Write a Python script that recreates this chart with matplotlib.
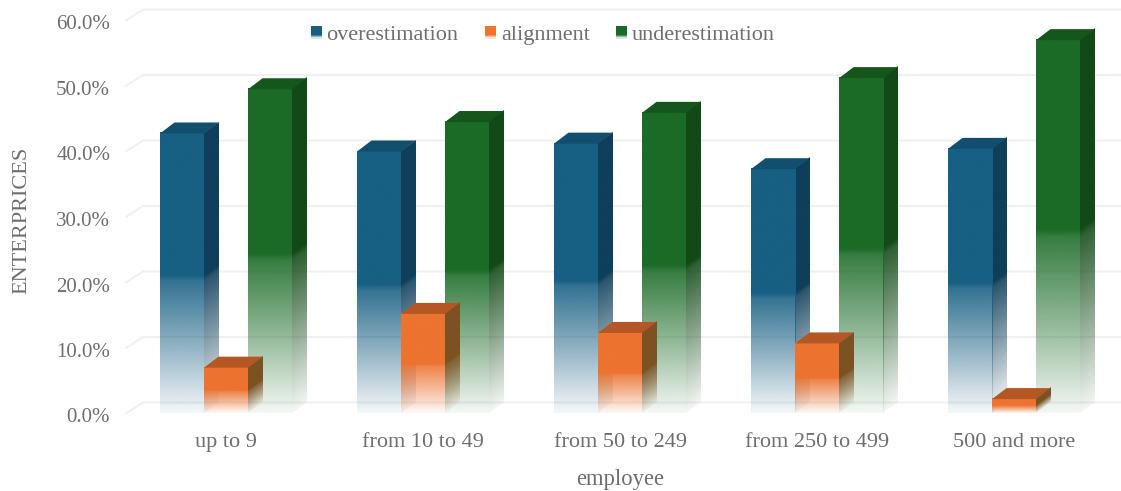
import numpy as np
import matplotlib
matplotlib.use("Agg")
import matplotlib.pyplot as plt
from matplotlib.colors import to_rgb
from matplotlib.legend_handler import HandlerBase
from matplotlib.patches import Patch, Rectangle
from matplotlib.transforms import Affine2D, ScaledTranslation

categories = ["up to 9", "from 10 to 49", "from 50 to 249", "from 250 to 499", "500 and more"]
overestimation = [42.75, 40.0, 41.2, 37.3, 40.4]
alignment = [7.0, 15.2, 12.3, 10.7, 2.2]
underestimation = [49.5, 44.5, 45.9, 51.2, 57.0]
y_ticks = [0, 10, 20, 30, 40, 50, 60]

# front, side and top shades for each series
OVER = ("#175f83", "#0f3f5a", "#124f6e")
ALIGN = ("#ec7330", "#7c5222", "#b55724")
UNDER = ("#1b6b27", "#124a17", "#14561b")
TEXT = "#6e6e6e"
GRID = "#f0f0f0"

W, H = 1121, 491
FONT = "Liberation Serif"

fig = plt.figure(figsize=(W / 100, H / 100), dpi=100)
left, right, top, bottom = 127.5, 1112.5, 20.5, 413.5
ax = fig.add_axes([left / W, 1 - bottom / H, (right - left) / W, (bottom - top) / H])
for s in ax.spines.values():
    s.set_visible(False)

BAR_W = 44 / 197
DX = 14.5 / 197      # horizontal depth of the 3-D extrusion
DY = 11 / 6.55       # vertical depth of the 3-D extrusion
SEAM = 0.2 / 197     # small inset between the side and front faces

# floor and back wall gridlines
for v in y_ticks:
    ax.plot([-0.5 - 1.5 / 197, -0.5 + 15.5 / 197, 4.5 + DX + 0.04],
            [v, v + DY, v + DY], color=GRID, lw=1.4, clip_on=False, zorder=1,
            solid_joinstyle="round")

# opacity stops along the bar height, 0 at the base and 1 at the top
FADE_POS = [0.0, 0.04, 0.25, 0.47, 0.49, 1.0]
FADE_ALPHA = [0.05, 0.12, 0.50, 0.88, 1.0, 1.0]


def faded_face(x0, x1, h, colour, sheared, z):
    """Draw a face whose opacity falls away toward the base of the bar."""
    t = np.linspace(1, 0, 256)
    rgba = np.zeros((t.size, 1, 4))
    rgba[..., :3] = to_rgb(colour)
    rgba[:, 0, 3] = np.interp(t, FADE_POS, FADE_ALPHA)
    slope = DY / DX if sheared else 0.0
    shear = Affine2D.from_values(1, slope, 0, 1, 0, -slope * x0)
    im = ax.imshow(rgba, extent=(x0, x1, 0, h), aspect="auto", interpolation="bilinear",
                   transform=shear + ax.transData, zorder=z)
    im.set_clip_on(False)


def draw_bar(cx, value, shades, z):
    front, side, cap = shades
    x0, x1 = cx - BAR_W / 2, cx + BAR_W / 2
    faded_face(x1 + SEAM, x1 + DX, value, side, True, z)
    faded_face(x0, x1, value, front, False, z + 0.1)
    ax.fill([x0, x1, x1 + DX, x0 + DX], [value, value, value + DY, value + DY],
            color=cap, lw=0, zorder=z + 0.2, clip_on=False)


for i in range(len(categories)):
    draw_bar(i - BAR_W, overestimation[i], OVER, 2)
    draw_bar(i + BAR_W, underestimation[i], UNDER, 3)
    draw_bar(i, alignment[i], ALIGN, 4)

ax.set_xlim(-0.5, 4.5)
ax.set_ylim(0, 60)
ax.set_aspect("auto")

ax.set_yticks(y_ticks)
ax.set_yticklabels([f"{v:.1f}%" for v in y_ticks], fontfamily=FONT, fontsize=15, color=TEXT)
ax.set_xticks(range(len(categories)))
ax.set_xticklabels(categories, fontfamily=FONT, fontsize=16, color=TEXT)
ax.tick_params(axis="y", length=0, pad=12.5)
ax.tick_params(axis="x", length=0, pad=14)
nudge = ScaledTranslation(0, -2 / 100, fig.dpi_scale_trans)
for lab in ax.get_yticklabels():
    lab.set_transform(lab.get_transform() + nudge)

ax.set_xlabel("employee", fontfamily=FONT, fontsize=16.3, color=TEXT)
ax.xaxis.set_label_coords((620 - left) / (right - left), -(479 - bottom) / (bottom - top), transform=ax.transAxes)
ax.xaxis.label.set_verticalalignment("center")
ax.set_ylabel("ENTERPRICES", fontfamily=FONT, fontsize=16, color=TEXT)
ax.yaxis.set_label_coords((22 - left) / (right - left), (bottom - 220) / (bottom - top), transform=ax.transAxes)
ax.yaxis.label.set_verticalalignment("center")


class FadedSwatch(HandlerBase):
    """Legend key with a short fade along its lower edge."""

    def create_artists(self, legend, orig_handle, xdescent, ydescent, width, height, fontsize, trans):
        colour = orig_handle.get_facecolor()[:3]
        n = 10
        parts = []
        for k in range(n):
            u = (k + 0.5) / n
            a = float(np.clip(u / 0.32, 0.1, 1.0))
            parts.append(Rectangle((-xdescent, -ydescent + height * k / n), width, height / n,
                                   facecolor=(*colour, a), edgecolor="none", transform=trans))
        return parts


handles = [Patch(facecolor=OVER[0], label="overestimation"),
           Patch(facecolor=ALIGN[0], label="alignment"),
           Patch(facecolor=UNDER[0], label="underestimation")]
leg = ax.legend(handles=handles, ncol=3, frameon=False, loc="center",
                bbox_to_anchor=((543 - left) / (right - left), (bottom - 35.5) / (bottom - top)),
                prop={"family": FONT, "size": 16},
                handlelength=0.5, handleheight=0.5, handletextpad=0.2, columnspacing=1.2,
                borderpad=0, labelcolor=TEXT,
                handler_map={Patch: FadedSwatch()})
leg.set_zorder(6)

fig.savefig("out.png", dpi=100)
